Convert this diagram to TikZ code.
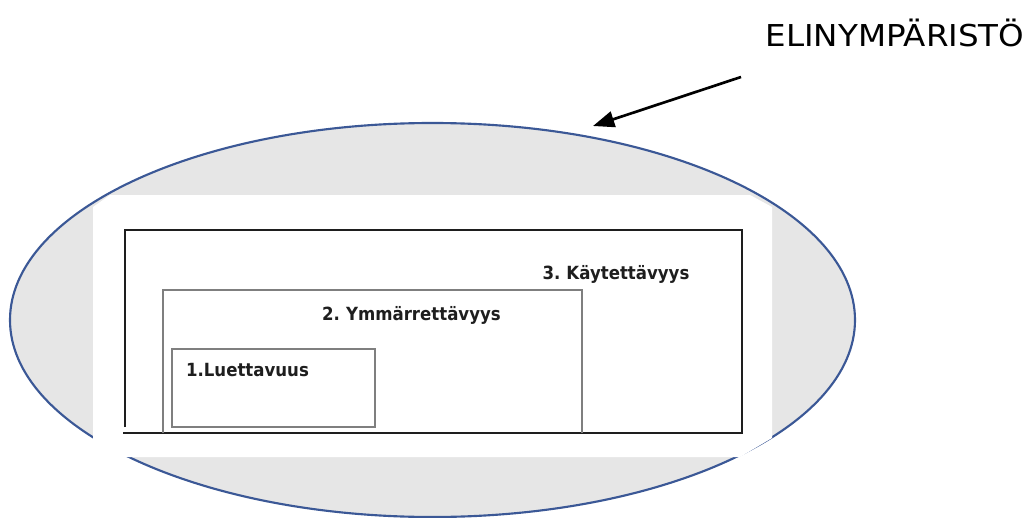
\documentclass[tikz,border=0pt]{standalone}
\usepackage{fontspec}
\setmainfont{DejaVu Sans}
\newfontfamily\lblfont[FakeStretch=0.915,WordSpace=0.7]{DejaVu Sans Bold}
\newfontfamily\titlefont[FakeStretch=1.08]{DejaVu Sans}
\usetikzlibrary{shapes.geometric,arrows.meta}
\definecolor{ellfill}{HTML}{E6E6E6}
\definecolor{ellline}{HTML}{3B5896}
\definecolor{boxgray}{HTML}{7F7F7F}
\definecolor{boxdark}{HTML}{1E1E1E}
\begin{document}
\begin{tikzpicture}[x=0.75pt,y=-0.75pt,
  lbl/.style={font=\lblfont\fontsize{13.6}{15}\selectfont, inner sep=0pt, text=boxdark, anchor=base},
  outerbox/.style={draw=boxdark, line width=1.5pt},
  innerbox/.style={draw=boxgray, line width=1pt}]
\useasboundingbox (0,0) rectangle (1029,518);
% environment ellipse
\node[ellipse, draw=ellline, line width=1.6pt, fill=ellfill,
      minimum width=633.75pt, minimum height=295.5pt, inner sep=0pt] (env) at (432.5,320) {};
% white cut-out
\fill[white] (93,207) -- (110,195) -- (750,195) -- (772,207) -- (772,438) -- (740,457) -- (122,457) -- (93,440) -- cycle;
% 3. outer box
\draw[outerbox] (125,427) -- (125,230) -- (742,230) -- (742,433) -- (123,433);
% 2. middle box
\draw[innerbox] (163,433) -- (163,290) -- (582,290) -- (582,433);
% 1. inner box
\draw[innerbox] (172,349) rectangle (375,427);
% labels
\node[lbl] (l3) at (616,279.5) {3. Käytettävyys};
\node[lbl] (l2) at (411.5,320) {2. Ymmärrettävyys};
\node[lbl] (l1) at (247.5,376) {1.Luettavuus};
% title and arrow
\node[font=\titlefont\fontsize{22.6}{26}\selectfont, inner sep=0pt, anchor=base] (title) at (895,46.5) {ELINYMPÄRISTÖ};
\coordinate (tail) at (741,77);
\coordinate (tip) at (593,126);
\draw[line width=2pt, -{Triangle[length=16pt,width=12pt]}] (tail) -- (tip);
\end{tikzpicture}
\end{document}
